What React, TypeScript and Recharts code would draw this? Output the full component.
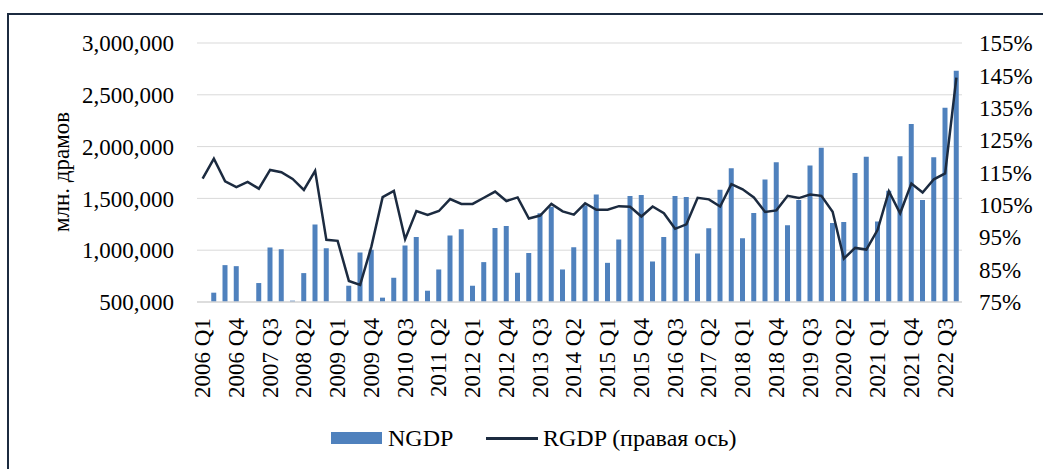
import {
  ComposedChart,
  Bar,
  Line,
  XAxis,
  YAxis,
  CartesianGrid,
  Legend,
} from "recharts";

const YEARS = [
  2006, 2007, 2008, 2009, 2010, 2011, 2012, 2013, 2014, 2015, 2016, 2017, 2018, 2019, 2020,
  2021, 2022,
];
const QUARTERS = ["Q1", "Q2", "Q3", "Q4"];
const periods = YEARS.flatMap((y) => QUARTERS.map((q) => `${y} ${q}`));

// млн. драмов
const ngdp = [
  485000, 590000, 856000, 846000, 485000, 683000, 1026000, 1010000, 513000, 779000, 1247000,
  1019000, 500000, 657000, 978000, 1005000, 542000, 734000, 1045000, 1128000, 609000, 814000,
  1143000, 1202000, 657000, 885000, 1215000, 1234000, 782000, 974000, 1356000, 1420000, 814000,
  1029000, 1433000, 1538000, 878000, 1103000, 1522000, 1532000, 891000, 1128000, 1522000,
  1513000, 968000, 1212000, 1583000, 1792000, 1115000, 1359000, 1683000, 1849000, 1240000,
  1484000, 1817000, 1990000, 1263000, 1272000, 1744000, 1901000, 1276000, 1574000, 1907000,
  2218000, 1484000, 1897000, 2375000, 2731000,
];

// % (правая ось)
const rgdp = [
  113.1, 119.3, 112.3, 110.5, 112.1, 110.0, 115.8, 115.1, 113.0, 109.6, 115.5, 94.2, 93.9, 81.5,
  80.3, 92.1, 107.4, 109.3, 94.4, 103.1, 101.9, 103.1, 106.8, 105.3, 105.3, 107.2, 109.1, 106.2,
  107.3, 100.8, 101.7, 105.3, 103.0, 102.0, 105.5, 103.5, 103.5, 104.6, 104.4, 101.4, 104.5,
  102.4, 97.6, 99.0, 107.2, 106.7, 104.5, 111.4, 109.8, 107.3, 102.8, 103.3, 107.8, 107.1, 108.2,
  107.8, 102.9, 88.4, 91.7, 91.2, 97.3, 109.2, 102.4, 111.6, 108.8, 112.9, 114.7, 144.3,
];

const leftTicks = [500000, 1000000, 1500000, 2000000, 2500000, 3000000];
const rightTicks = [75, 85, 95, 105, 115, 125, 135, 145, 155];

const FONT = '"Liberation Serif", "Times New Roman", serif';
const BAR_COLOR = "#4f81bd";
const LINE_COLOR = "#1c2b40";
const GRID = "#d9d9d9";

const chartData = periods.map((label, i) => ({
  label,
  NGDP: ngdp[i],
  RGDP: rgdp[i],
}));

function XTick({ x, y, payload }: { x?: number; y?: number; payload?: { value: string } }) {
  return (
    <g transform={`translate(${x},${y})`}>
      <text
        x={0}
        y={0}
        transform="rotate(-90)"
        textAnchor="end"
        dominantBaseline="central"
        fontFamily={FONT}
        fontSize={23}
        fill="#000"
      >
        {payload?.value}
      </text>
    </g>
  );
}

function LegendContent() {
  const text = { position: "absolute" as const, top: 0, lineHeight: "30px", whiteSpace: "nowrap" as const };
  return (
    <div style={{ position: "relative", width: 1043, height: 30, fontFamily: FONT, fontSize: 24, color: "#000" }}>
      <span style={{ position: "absolute", left: 331, top: 9, width: 51, height: 12, background: BAR_COLOR }} />
      <span style={{ ...text, left: 388 }}>NGDP</span>
      <span style={{ position: "absolute", left: 486, top: 14, width: 52, height: 2.5, background: LINE_COLOR }} />
      <span style={{ ...text, left: 543 }}>RGDP (правая ось)</span>
    </div>
  );
}

export default function App() {
  return (
    <div style={{ position: "relative", width: 1043, height: 469, overflow: "hidden", background: "#fff" }}>
      <style>{`body{margin:0;overflow:hidden;}`}</style>
      <div
        style={{
          position: "absolute",
          left: 7,
          top: 13,
          width: 1100,
          height: 600,
          borderTop: `2px solid ${LINE_COLOR}`,
          borderLeft: `2px solid ${LINE_COLOR}`,
        }}
      />
      <div
        style={{
          position: "absolute",
          left: 62,
          top: 172,
          transform: "translate(-50%, -50%) rotate(-90deg)",
          fontFamily: FONT,
          fontSize: 23,
          whiteSpace: "nowrap",
          color: "#000",
        }}
      >
        млн. драмов
      </div>
      <div style={{ position: "absolute", left: 0, top: 0 }}>
        <ComposedChart
          width={1043}
          height={469}
          data={chartData}
          margin={{ top: 43, right: 0, left: 0, bottom: 16 }}
          barCategoryGap={0}
        >
          <CartesianGrid yAxisId="left" vertical={false} stroke={GRID} strokeWidth={1} />
          <XAxis
            dataKey="label"
            interval={2}
            height={121}
            tickSize={0}
            tickMargin={16}
            tickLine={false}
            axisLine={{ stroke: GRID, strokeWidth: 1.5 }}
            tick={<XTick />}
          />
          <YAxis
            yAxisId="left"
            width={197}
            domain={[500000, 3000000]}
            ticks={leftTicks}
            allowDataOverflow
            axisLine={false}
            tickLine={false}
            tickSize={0}
            tickMargin={23}
            tick={{ fontFamily: FONT, fontSize: 23, fill: "#000" }}
            tickFormatter={(v: number) => v.toLocaleString("en-US")}
          />
          <YAxis
            yAxisId="right"
            orientation="right"
            width={81}
            domain={[75, 155]}
            ticks={rightTicks}
            allowDataOverflow
            axisLine={false}
            tickLine={false}
            tickSize={0}
            tickMargin={17}
            tick={{ fontFamily: FONT, fontSize: 23, fill: "#000" }}
            tickFormatter={(v: number) => `${v}%`}
          />
          <Legend
            verticalAlign="bottom"
            content={<LegendContent />}
            wrapperStyle={{ left: 0, width: 1043, height: 30 }}
          />
          <Bar
            yAxisId="left"
            dataKey="NGDP"
            fill={BAR_COLOR}
            barSize={5}
            isAnimationActive={false}
          />
          <Line
            yAxisId="right"
            dataKey="RGDP"
            type="linear"
            stroke={LINE_COLOR}
            strokeWidth={2.5}
            dot={false}
            activeDot={false}
            isAnimationActive={false}
          />
        </ComposedChart>
      </div>
    </div>
  );
}
